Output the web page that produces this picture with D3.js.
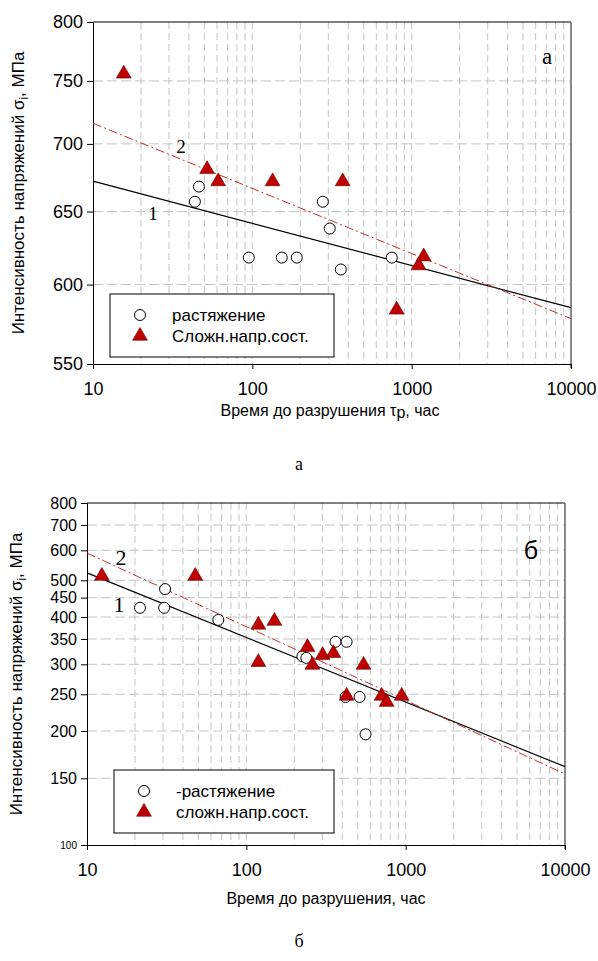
<!DOCTYPE html>
<html>
<head>
<meta charset="utf-8">
<script src="https://cdn.jsdelivr.net/npm/d3@7"></script>
<style>
  body { margin: 0; background: #fff; }
  svg { display: block; }
</style>
</head>
<body>
<div id="chart"></div>
<script>
// ---- panel a data ----
const tensionA = [[43.6, 657], [46.2, 668], [95, 618], [153, 618], [190, 618],
                  [277, 657], [306, 638], [359, 610], [750, 618]];
const complexA = [[15.6, 755], [52, 680], [61, 671], [134, 671], [369, 671],
                  [1190, 618], [1106, 612], [805, 583]];
const fit1A = [[10, 672], [10000, 585]];
const fit2A = [[10, 716], [10000, 578]];
const yTicksA = [550, 600, 650, 700, 750, 800];

// ---- panel б data ----
const tensionB = [[30.9, 474], [21.5, 423], [30.5, 423], [66.7, 393], [225, 315],
                  [238, 312], [363, 344], [426, 344], [420, 246], [514, 246], [560, 196]];
const complexB = [[12.4, 510], [47.8, 510], [119, 379], [150, 388], [119, 302],
                  [242, 331], [260, 297], [301, 315], [352, 319], [544, 297],
                  [426, 246], [706, 246], [760, 237], [944, 246]];
const fit1B = [[10, 523], [10000, 161]];
const fit2B = [[10, 590], [10000, 154]];
const yTicksB = [100, 150, 200, 250, 300, 350, 400, 450, 500, 600, 700, 800];

const xTicks = [10, 100, 1000, 10000];
const legendA = ['растяжение', 'Сложн.напр.сост.'];
const legendB = ['-растяжение', 'сложн.напр.сост.'];

const svg = d3.select('#chart').append('svg')
    .attr('width', 598).attr('height', 961);

const sans = 'Liberation Sans, Arial, sans-serif';
const serif = 'Liberation Serif, Times New Roman, serif';

function drawPanel(p) {
    const x = d3.scaleLog().domain([10, 10000]).range([p.left, p.right]);
    const y = d3.scaleLog().domain(p.yDomain).range([p.bottom, p.top]);
    const g = svg.append('g');

    // vertical grid at every log minor
    const minors = [];
    [10, 100, 1000].forEach(d => { for (let k = 1; k <= 9; k++) minors.push(d * k); });
    g.selectAll('.vg').data(minors.filter(v => v > 10)).enter().append('line')
        .attr('x1', d => x(d)).attr('x2', d => x(d))
        .attr('y1', p.top).attr('y2', p.bottom)
        .attr('stroke', '#c4c4c4').attr('stroke-width', 1)
        .attr('stroke-dasharray', '7,4');
    g.selectAll('.hg').data(p.yTicks.slice(1, -1)).enter().append('line')
        .attr('x1', p.left).attr('x2', p.right)
        .attr('y1', d => y(d)).attr('y2', d => y(d))
        .attr('stroke', '#c4c4c4').attr('stroke-width', 1)
        .attr('stroke-dasharray', '10,4');

    // frame
    g.append('line').attr('x1', p.left).attr('x2', p.right).attr('y1', p.top).attr('y2', p.top)
        .attr('stroke', '#000');
    g.append('line').attr('x1', p.right).attr('x2', p.right).attr('y1', p.top).attr('y2', p.bottom + 4)
        .attr('stroke', '#8a8a8a').attr('stroke-width', 2);

    // axes
    const xAxis = d3.axisBottom(x).tickValues(xTicks).tickFormat(d3.format('d')).tickSize(5).tickPadding(13);
    const ax = g.append('g').attr('transform', `translate(0,${p.bottom})`).call(xAxis);
    ax.select('.domain').attr('stroke', '#000');
    ax.selectAll('text').attr('font-family', sans).attr('font-size', 18).attr('fill', '#000');

    const yAxis = d3.axisLeft(y).tickValues(p.yTicks).tickFormat(d3.format('d')).tickSize(6).tickPadding(4);
    const ay = g.append('g').attr('transform', `translate(${p.left},0)`).call(yAxis);
    ay.select('.domain').attr('stroke', '#000');
    ay.selectAll('text').attr('font-family', sans).attr('font-size', p.yFont).attr('fill', '#000')
        .filter(d => p.smallFirst && d === p.yTicks[0]).attr('font-size', 10);

    // fit lines
    const line = d3.line().x(d => x(d[0])).y(d => y(d[1]));
    g.append('path').datum(p.fit1).attr('d', line).attr('fill', 'none')
        .attr('stroke', '#000').attr('stroke-width', 1.2);
    g.append('path').datum(p.fit2).attr('d', line).attr('fill', 'none')
        .attr('stroke', '#c0302a').attr('stroke-width', 1)
        .attr('stroke-dasharray', '9,3,2,3');

    // markers
    const tri = d3.symbol().type(d3.symbolTriangle).size(95);
    g.selectAll('.c').data(p.tension).enter().append('circle')
        .attr('cx', d => x(d[0])).attr('cy', d => y(d[1])).attr('r', 5.5)
        .attr('fill', '#fff').attr('stroke', '#000').attr('stroke-width', 1);
    g.selectAll('.t').data(p.complex).enter().append('path')
        .attr('d', tri)
        .attr('transform', d => `translate(${x(d[0])},${y(d[1]) - 1})`)
        .attr('fill', '#c00000').attr('stroke', '#600').attr('stroke-width', 0.6);

    // curve labels
    g.append('text').attr('x', p.lab1[0]).attr('y', p.lab1[1]).text('1')
        .attr('font-family', serif).attr('font-size', p.labSize).attr('text-anchor', 'middle');
    g.append('text').attr('x', p.lab2[0]).attr('y', p.lab2[1]).text('2')
        .attr('font-family', serif).attr('font-size', p.labSize).attr('text-anchor', 'middle');
    g.append('text').attr('x', p.panel[0]).attr('y', p.panel[1]).text(p.panelText)
        .attr('font-family', p.panelFont).attr('font-size', p.panelSize).attr('text-anchor', 'middle');

    // legend
    const L = p.legend;
    g.append('rect').attr('x', L.x).attr('y', L.y).attr('width', L.w).attr('height', L.h)
        .attr('fill', '#fff').attr('stroke', '#000').attr('stroke-width', 1);
    g.append('circle').attr('cx', L.x + 30).attr('cy', L.y + 21).attr('r', 5.5)
        .attr('fill', '#fff').attr('stroke', '#000');
    g.append('path').attr('d', tri).attr('transform', `translate(${L.x + 30},${L.y + 42})`)
        .attr('fill', '#c00000').attr('stroke', '#600').attr('stroke-width', 0.6);
    L.labels.forEach((t, i) => {
        g.append('text').attr('x', L.x + 62).attr('y', L.y + 21 + i * 21).attr('dy', '0.35em')
            .text(t).attr('font-family', sans).attr('font-size', 17);
    });

    // axis titles
    const yt = g.append('text')
        .attr('transform', `translate(${p.yTitleX},${(p.top + p.bottom) / 2}) rotate(-90)`)
        .attr('text-anchor', 'middle').attr('font-family', sans).attr('font-size', 17);
    yt.append('tspan').text('Интенсивность напряжений σ');
    yt.append('tspan').text('i').attr('font-size', 12).attr('dy', 4);
    yt.append('tspan').text(', МПа').attr('dy', -4);

    const xt = g.append('text').attr('x', p.xTitle[0]).attr('y', p.xTitle[1])
        .attr('text-anchor', 'middle').attr('font-family', sans).attr('font-size', 16);
    p.xTitleParts.forEach(s => {
        const ts = xt.append('tspan').text(s.t);
        if (s.size) ts.attr('font-size', s.size);
        if (s.dy) ts.attr('dy', s.dy);
    });

    svg.append('text').attr('x', 299).attr('y', p.caption).text(p.panelText === 'а' ? 'а' : 'б')
        .attr('font-family', serif).attr('font-size', 18).attr('text-anchor', 'middle');
}

drawPanel({
    left: 93, right: 571, top: 22, bottom: 364,
    yDomain: [550, 800], yTicks: yTicksA, yFont: 18,
    tension: tensionA, complex: complexA, fit1: fit1A, fit2: fit2A,
    lab1: [153, 220], lab2: [181, 153], labSize: 19,
    panel: [547, 64], panelText: 'а', panelFont: serif, panelSize: 23,
    legend: { x: 110, y: 294, w: 224, h: 63, labels: legendA },
    yTitleX: 24, xTitle: [330, 416],
    xTitleParts: [{ t: 'Время до разрушения τ' }, { t: 'p', size: 16, dy: 2 }, { t: ', час', dy: -2 }],
    caption: 470
});

drawPanel({
    left: 87, right: 565, top: 503, bottom: 845,
    yDomain: [100, 800], yTicks: yTicksB, smallFirst: true, yFont: 16,
    tension: tensionB, complex: complexB, fit1: fit1B, fit2: fit2B,
    lab1: [119, 612], lab2: [121, 565], labSize: 22,
    panel: [531, 559], panelText: 'б', panelFont: sans, panelSize: 25,
    legend: { x: 114, y: 770, w: 220, h: 63, labels: legendB },
    yTitleX: 22, xTitle: [326, 904],
    xTitleParts: [{ t: 'Время до разрушения, час' }],
    caption: 947
});
</script>
</body>
</html>
